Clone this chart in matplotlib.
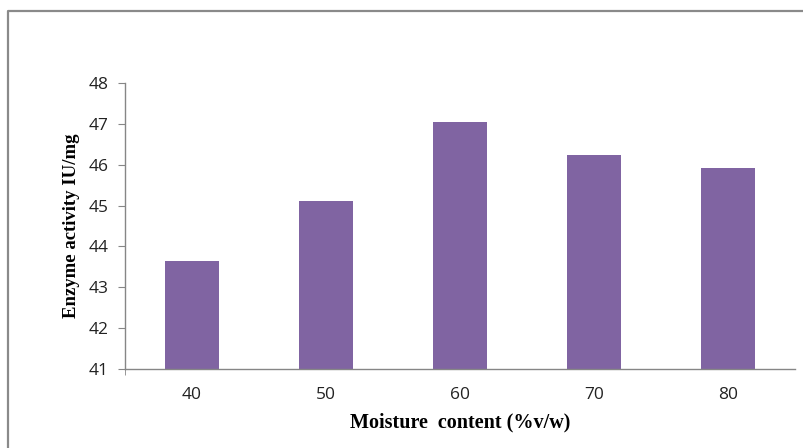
import matplotlib.pyplot as plt
from matplotlib.lines import Line2D

# data
moisture = ["40", "50", "60", "70", "80"]
activity = [43.65, 45.10, 47.05, 46.25, 45.92]
y_ticks = [41, 42, 43, 44, 45, 46, 47, 48]

BAR = "#8064A2"
GRID = "#868686"

fig = plt.figure(figsize=(8.04, 4.48), dpi=100)
ax = fig.add_axes([125 / 804, 1 - 369 / 448, 670 / 804, 286 / 448])

x = list(range(len(moisture)))
ax.bar(x, activity, width=0.4, color=BAR, bottom=0)

ax.set_xlim(-0.5, len(moisture) - 0.5)
ax.set_ylim(41, 48)
ax.set_yticks(y_ticks)
ax.set_xticks(x)
ax.set_xticklabels(moisture)
ax.set_xticks([-0.5], minor=True)

for s in ("top", "right"):
    ax.spines[s].set_visible(False)
for s in ("left", "bottom"):
    ax.spines[s].set_color(GRID)
    ax.spines[s].set_linewidth(1.0)

ax.tick_params(axis="y", direction="out", length=5, color=GRID, labelsize=12.5, pad=7)
ax.tick_params(axis="x", which="major", length=0, labelsize=12.5, pad=13)
ax.tick_params(axis="x", which="minor", direction="inout", length=8, color=GRID)
for lbl in ax.get_xticklabels() + ax.get_yticklabels():
    lbl.set_family("Open Sans")
    lbl.set_color("#222222")

ax.set_ylabel("Enzyme activity IU/mg", family="Liberation Serif", fontweight="bold",
              fontsize=13.5, labelpad=6)
ax.set_xlabel("Moisture  content (%v/w)", family="Liberation Serif", fontweight="bold",
              fontsize=14.5, labelpad=7)

# outer chart frame (only left and top edges visible in the crop)
ytop = 1 - 11 / 448
xl = 8 / 804
fig.add_artist(Line2D([xl, xl, 1.0], [0.0, ytop, ytop], transform=fig.transFigure,
                      color="#8a8a8a", lw=1.6))

fig.savefig("out.png", dpi=100)
